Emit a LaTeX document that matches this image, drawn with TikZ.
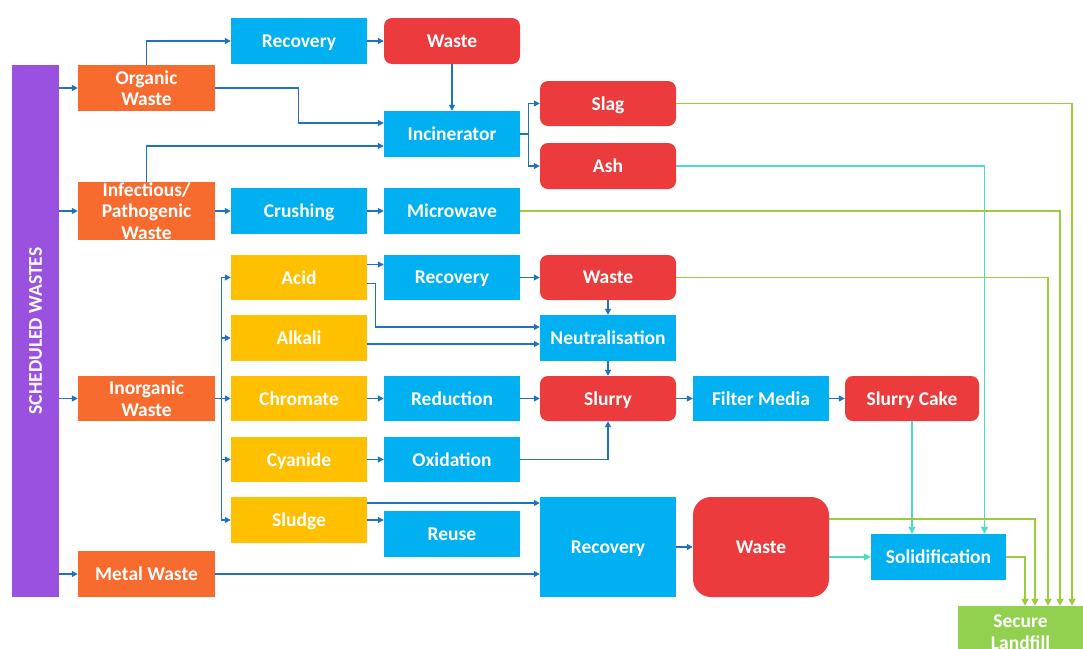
\documentclass[tikz,border=0pt]{standalone}
\usepackage{fontspec}
\setmainfont{Carlito}
\usetikzlibrary{arrows.meta}
\definecolor{cpurple}{HTML}{9B51E0}
\definecolor{corange}{HTML}{F76B2E}
\definecolor{cblue}{HTML}{00B0F0}
\definecolor{cred}{HTML}{EB3B3D}
\definecolor{cyellow}{HTML}{FFC000}
\definecolor{cgreen}{HTML}{92D050}
\definecolor{lineblue}{HTML}{1F72C0}
\definecolor{linegreen}{HTML}{9ACD3A}
\definecolor{linecyan}{HTML}{4DDBC8}
% box from its corners: name, style, x1, y1, x2, y2, text
\newcommand\bx[7]{\node[#2, minimum width={#5-#3}, minimum height={#6-#4}] (#1) at ({(#3+#5)/2},{(#4+#6)/2}) {#7};}
\tikzset{
  box/.style={inner sep=0pt, text=white, text depth=0pt, font=\bfseries\fontsize{19.5}{21.5}\selectfont, align=center},
  src/.style={box, fill=corange},
  pro/.style={box, fill=cblue},
  res/.style={box, fill=cred, rounded corners=8pt},
  chem/.style={box, fill=cyellow},
  bline/.style={draw=lineblue, line width=1.3pt},
  barrow/.style={bline, -{Triangle[length=6pt,width=6pt]}},
  garrow/.style={draw=linegreen, line width=1.6pt, -{Triangle[length=7pt,width=7pt]}},
  carrow/.style={draw=linecyan, line width=1.3pt, -{Triangle[length=7pt,width=7pt]}},
}
\begin{document}
\begin{tikzpicture}[x=1pt,y=-1pt]
\useasboundingbox (0,0) rectangle (1083,648);
% side bar
\node[box, fill=cpurple, minimum width=532, minimum height=47, rotate=90] (sched) at (35.5,331) {SCHEDULED WASTES};
% boxes
\bx{rec1}{pro}{231}{18}{367}{64}{Recovery}
\bx{wst1}{res}{384}{18}{520}{64}{Waste}
\bx{org}{src}{78}{65}{215}{111}{Organic\\Waste}
\bx{inc}{pro}{384}{111}{520}{157}{Incinerator}
\bx{slag}{res}{540}{81}{676}{126}{Slag}
\bx{ash}{res}{540}{143}{676}{189}{Ash}
\bx{inf}{src}{78}{182}{215}{240}{Infectious/\\Pathogenic\\Waste}
\bx{crush}{pro}{231}{188}{367}{234}{Crushing}
\bx{micro}{pro}{384}{188}{520}{234}{Microwave}
\bx{acid}{chem}{231}{255}{367}{300}{Acid}
\bx{rec2}{pro}{384}{255}{520}{300}{Recovery}
\bx{wst2}{res}{540}{255}{676}{300}{Waste}
\bx{alk}{chem}{231}{315}{367}{361}{Alkali}
\bx{neu}{pro}{540}{315}{676}{361}{Neutralisation}
\bx{inorg}{src}{78}{376}{215}{421}{Inorganic\\Waste}
\bx{chro}{chem}{231}{376}{367}{421}{Chromate}
\bx{redu}{pro}{384}{376}{520}{421}{Reduction}
\bx{slur}{res}{540}{376}{676}{421}{Slurry}
\bx{filt}{pro}{693}{376}{829}{421}{Filter Media}
\bx{cake}{res}{845}{376}{979}{421}{Slurry Cake}
\bx{cyan}{chem}{231}{437}{367}{482}{Cyanide}
\bx{oxi}{pro}{384}{437}{520}{482}{Oxidation}
\bx{sludge}{chem}{231}{497}{367}{543}{Sludge}
\bx{reuse}{pro}{384}{511}{520}{557}{Reuse}
\bx{rec3}{pro}{540}{497}{676}{597}{Recovery}
\bx{wst3}{res, rounded corners=18pt}{693}{497}{829}{597}{Waste}
\bx{metal}{src}{78}{551}{215}{597}{Metal Waste}
\bx{solid}{pro}{871}{534}{1006}{580}{Solidification}
\bx{land}{box, fill=cgreen}{958}{606}{1083}{658}{Secure\\Landfill}
% landfill entry lanes
\coordinate (l1) at ([xshift=4.5pt]land.north);
\coordinate (l2) at ([xshift=14.5pt]land.north);
\coordinate (l3) at ([xshift=27.5pt]land.north);
\coordinate (l4) at ([xshift=39.5pt]land.north);
\coordinate (l5) at ([xshift=51.5pt]land.north);
% from the side bar
\draw[barrow] (sched.south |- org.west) -- (org.west);
\draw[barrow] (sched.south |- inf.west) -- (inf.west);
\draw[barrow] (sched.south |- inorg.west) -- (inorg.west);
\draw[barrow] (sched.south |- metal.west) -- (metal.west);
% organic and infectious
\draw[barrow] (org.north) |- (rec1.west);
\draw[barrow] (rec1.east) -- (wst1.west);
\draw[barrow] (wst1.south) -- (inc.north);
\draw[barrow] (org.east) -- ++(83,0) |- ([yshift=11pt]inc.west);
\draw[barrow] (inf.north) |- ([yshift=-12pt]inc.west);
\draw[barrow] (inc.east) -- ++(8,0) coordinate (incj) |- (slag.west);
\draw[barrow] (incj) |- (ash.west);
\draw[barrow] (inf.east) -- (crush.west);
\draw[barrow] (crush.east) -- (micro.west);
% inorganic
\draw[bline] (inorg.east) -- ++(6,0) coordinate (trunk);
\draw[bline] (trunk |- acid.west) -- (trunk |- sludge.west);
\foreach \t in {acid,alk,chro,cyan,sludge}
  \draw[barrow] (trunk |- \t.west) -- (\t.west);
\draw[barrow] ([yshift=13pt]acid.east) -- ([yshift=13pt]acid.east -| rec2.west);
\draw[barrow] (rec2.east) -- (wst2.west);
\draw[barrow] ([yshift=-6pt]acid.east) -- ++(8,0) |- ([yshift=11pt]neu.west);
\draw[barrow] ([yshift=-6pt]alk.east) -- ([yshift=-6pt]alk.east -| neu.west);
\draw[barrow] (wst2.south) -- (neu.north);
\draw[barrow] (neu.south) -- (slur.north);
\draw[barrow] (chro.east) -- (redu.west);
\draw[barrow] (redu.east) -- (slur.west);
\draw[barrow] (slur.east) -- (filt.west);
\draw[barrow] (filt.east) -- (cake.west);
\draw[barrow] (cyan.east) -- (oxi.west);
\draw[barrow] (oxi.east) -| (slur.south);
\draw[barrow] ([yshift=17pt]sludge.east) -- ([yshift=17pt]sludge.east -| rec3.west);
\draw[barrow] (sludge.east) -- (sludge.east -| reuse.west);
\draw[barrow] (metal.east) -- (metal.east -| rec3.west);
\draw[barrow] (rec3.east) -- (wst3.west);
% to solidification
\draw[carrow] (ash.east) -| ([xshift=46pt]solid.north);
\draw[carrow] (cake.south) -- (cake.south |- solid.north);
\draw[carrow] (solid.west -| wst3.east) -- (solid.west);
% to secure landfill
\draw[garrow] (slag.east) -| (l5);
\draw[garrow] (micro.east) -| (l4);
\draw[garrow] (wst2.east) -| (l3);
\draw[garrow] ([yshift=28pt]wst3.east) -| (l2);
\draw[garrow] (solid.east) -| (l1);
\end{tikzpicture}
\end{document}
